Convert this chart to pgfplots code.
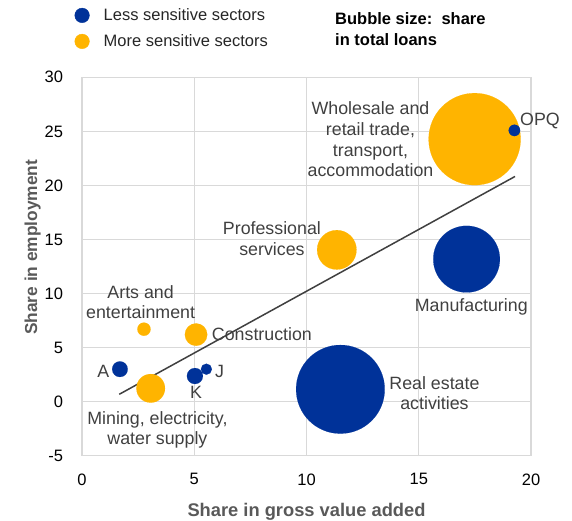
\documentclass[border=0pt]{standalone}
\usepackage{fontspec}
\setmainfont{Liberation Sans}
\usepackage{pgfplots}
\usepackage{pgfplotstable}
\pgfplotsset{compat=1.18}
\definecolor{ecbblue}{HTML}{003299}
\definecolor{ecborange}{HTML}{FFB400}
\definecolor{gridgray}{HTML}{D9D9D9}
\definecolor{lblgray}{HTML}{404040}
\definecolor{axgray}{HTML}{595959}
\definecolor{txt}{HTML}{262626}

% x = share in gross value added, y = share in employment, r = bubble radius (pt)
\pgfplotstableread{
x     y     r
1.69  3.00  7.8
5.03  2.37  8.0
5.54  3.00  5.5
11.51 1.14  44.3
17.13 13.18 33.3
19.26 25.09 5.7
}\lesstab
\pgfplotstableread{
x     y     r
2.76  6.70  6.6
5.08  6.20  11.2
3.06  1.23  14.3
11.35 14.04 19.7
17.49 24.28 46.0
}\moretab

\begin{document}
\begin{tikzpicture}
\begin{axis}[
  at={(82pt,65.3pt)}, anchor=south west,
  scale only axis, width=449pt, height=378.4pt,
  xmin=0, xmax=20, ymin=-5, ymax=30,
  xtick={0,5,10,15,20}, ytick={-5,0,5,10,15,20,25,30},
  xticklabels={0,5,10,15,20},
  yticklabels={-5,0,5,10,15,20,25,30},
  grid=major,
  grid style={gridgray, line width=1.3pt},
  axis line style={gridgray, line width=1.3pt},
  major tick length=0pt,
  tick label style={font=\fontsize{16.5}{19}\selectfont, text=black},
  xticklabel style={anchor=north, inner sep=0pt, yshift=-17.6pt},
  yticklabel style={anchor=east, inner sep=0pt, xshift=-18.7pt},
  xlabel={Share in gross value added},
  ylabel={Share in employment},
  xlabel style={font=\bfseries\fontsize{18.3}{21}\selectfont, text=axgray, at={(axis description cs:0.5,-0.1594)}, anchor=base},
  ylabel style={font=\bfseries\fontsize{17.3}{21}\selectfont, text=axgray, at={(axis description cs:-0.1002,0.5507)}, anchor=base},
  clip=false,
  legend image code/.code={\fill[#1] (7.3pt,0pt) circle (7.3pt); \path[draw=none, fill=none] (0pt,0pt) -- (28.9pt,0pt);},
  legend style={draw=none, fill=none, inner sep=0pt, row sep=11pt,
    at={(axis description cs:-0.0169,1.1839)}, anchor=north west,
    nodes={inner sep=0pt, text=txt, font=\fontsize{16.5}{19}\selectfont}},
  legend cell align=left,
]
\addlegendimage{ecbblue}
\addlegendentry{Less sensitive sectors}
\addlegendimage{ecborange}
\addlegendentry{More sensitive sectors}

\addplot[forget plot, scatter, only marks, mark=*,
  scatter/use mapped color={draw=ecborange, fill=ecborange, line width=0.1pt},
  visualization depends on={\thisrow{r} \as \perpointmarksize},
  scatter/@pre marker code/.append style={/tikz/mark size=\perpointmarksize}]
  table[x=x, y=y] {\moretab};
\addplot[forget plot, scatter, only marks, mark=*,
  scatter/use mapped color={draw=ecbblue, fill=ecbblue, line width=0.1pt},
  visualization depends on={\thisrow{r} \as \perpointmarksize},
  scatter/@pre marker code/.append style={/tikz/mark size=\perpointmarksize}]
  table[x=x, y=y] {\lesstab};
\addplot[forget plot, lblgray, line width=1.5pt] coordinates {(1.66,0.68) (19.29,20.83)};

\begin{scope}[every node/.style={font=\fontsize{17.8}{20.7}\selectfont, text=lblgray, inner sep=0pt, align=center}]
\node[anchor=north] at (axis cs:12.85,27.74) {Wholesale and\\retail trade,\\transport,\\accommodation};
\node[anchor=base west] at (axis cs:19.51,25.52) {OPQ};
\node[anchor=north] at (axis cs:8.46,16.63) {Professional\\services};
\node[anchor=base] at (axis cs:17.34,8.30) {Manufacturing};
\node[anchor=base west] at (axis cs:5.78,5.61) {Construction};
\node[anchor=north] at (axis cs:15.70,2.37) {Real estate\\activities};
\node[anchor=north] at (axis cs:2.61,10.77) {Arts and\\entertainment};
\node[anchor=base east] at (axis cs:1.22,2.22) {A};
\node[anchor=base west] at (axis cs:5.92,2.22) {J};
\node[anchor=base] at (axis cs:5.08,0.28) {K};
\node[anchor=north] at (axis cs:3.36,-0.87) {Mining, electricity,\\water supply};
\end{scope}
\end{axis}
\node[anchor=base west, inner sep=0pt, font=\bfseries\fontsize{16.5}{20}\selectfont, text=black] at (335pt,496pt) {Bubble size:\ \ share};
\node[anchor=base west, inner sep=0pt, font=\bfseries\fontsize{16.5}{20}\selectfont, text=black] at (335pt,475pt) {in total loans};
\pgfresetboundingbox
\path[use as bounding box] (0pt,0pt) rectangle (572pt,521pt);
\end{tikzpicture}
\end{document}
